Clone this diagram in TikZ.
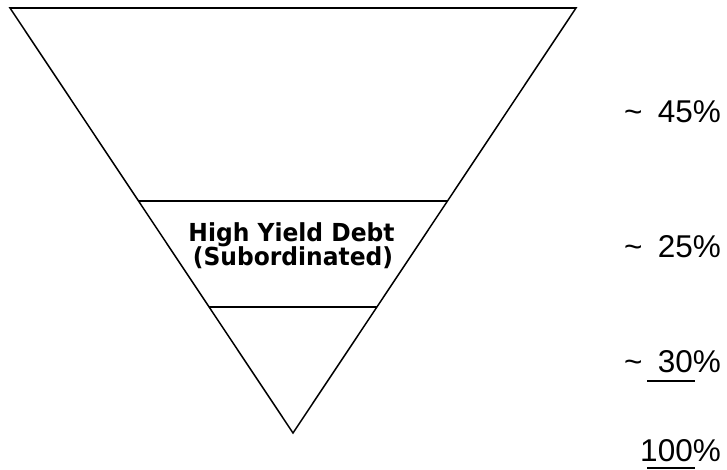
\documentclass[tikz,border=0pt]{standalone}
\usepackage{fontspec}
\usetikzlibrary{calc}
\setmainfont{Liberation Sans}
\newfontfamily\boxfont{DejaVu Sans}
\begin{document}
\begin{tikzpicture}[x=1pt,y=-1pt,
  edge/.style={line width=1.5pt,line join=miter},
  band/.style={line width=1.9pt},
  pct/.style={inner sep=0pt,anchor=base east,font=\fontsize{31.5}{34}\selectfont},
  tld/.style={inner sep=0pt,anchor=base west,font=\fontsize{31.5}{34}\selectfont},
  ulin/.style={line width=2pt},
  lbl/.style={inner sep=0pt,anchor=base,font=\boxfont\bfseries\fontsize{23.4}{22}\selectfont}]
\useasboundingbox (0,0) rectangle (727,470);
\coordinate (tl) at (10,8);
\coordinate (tr) at (576,8);
\coordinate (ap) at (293,433);
\draw[edge] (tl) -- (tr) -- (ap) -- cycle;
\draw[band] (tl) -- (tr);
\coordinate (a1) at ($(tl)!0.4541!(ap)$);
\coordinate (b1) at ($(tr)!0.4541!(ap)$);
\coordinate (a2) at ($(tl)!0.7035!(ap)$);
\coordinate (b2) at ($(tr)!0.7035!(ap)$);
\draw[band] (a1) -- (b1);
\draw[band] (a2) -- (b2);
\node[lbl] (hy1) at (291.5,241) {\scalebox{1}[1.06]{High Yield Debt}};
\node[lbl] (hy2) at (293,265) {\scalebox{1}[1.06]{(Subordinated)}};
\node[tld] (t45) at (624,123) {\textasciitilde};
\node[pct] (p45) at (721,123) {45\%};
\node[tld] (t25) at (624,257) {\textasciitilde};
\node[pct] (p25) at (721,257) {25\%};
\node[tld] (t30) at (624,372) {\textasciitilde};
\node[pct] (p30) at (721,372) {30\%};
\node[pct] (p100) at (721,461) {100\%};
\coordinate (u1a) at (647,381);
\coordinate (u1b) at (695,381);
\coordinate (u2a) at (647,468);
\coordinate (u2b) at (695,468);
\draw[ulin] (u1a) -- (u1b);
\draw[ulin] (u2a) -- (u2b);
\end{tikzpicture}
\end{document}
